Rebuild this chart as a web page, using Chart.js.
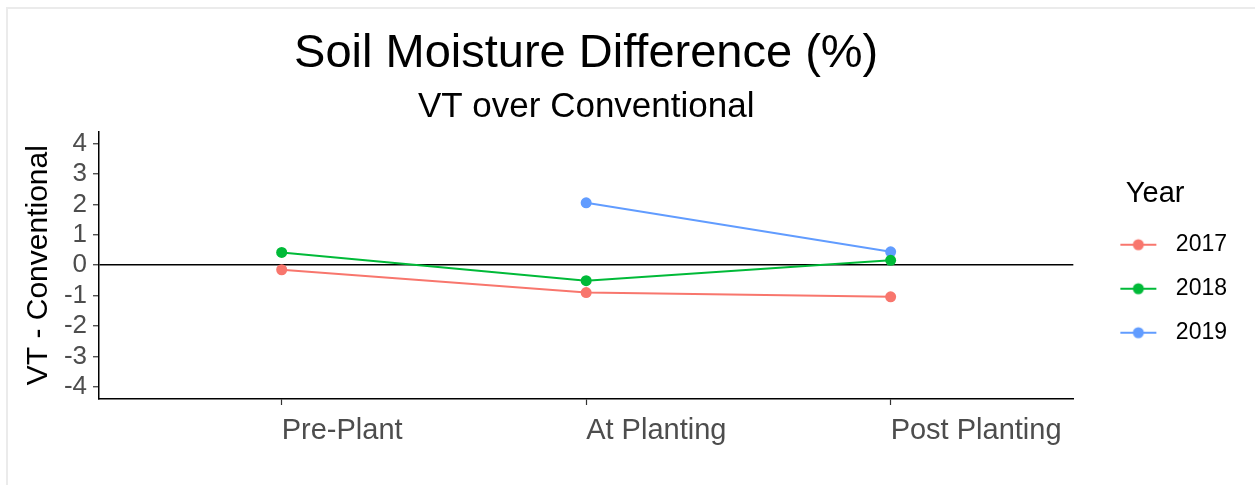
<!DOCTYPE html>
<html>
<head>
<meta charset="utf-8">
<title>Soil Moisture Difference</title>
<script src="https://cdn.jsdelivr.net/npm/chart.js@4.4.1/dist/chart.umd.min.js"></script>
<style>
    html, body { margin: 0; padding: 0; background: #fff; }
    #wrap { position: relative; width: 1255px; height: 485px; overflow: hidden; }
    #frame { position: absolute; left: 6px; top: 7px; right: 0; bottom: 0; border-left: 2px solid #ebebeb; border-top: 2px solid #ebebeb; }
    #moistureChart { position: absolute; left: 0; top: 0; }
</style>
</head>
<body>
<div id="wrap">
    <div id="frame"></div>
    <canvas id="moistureChart" width="1255" height="485"></canvas>
</div>
<script>
// values (VT minus conventional, %)
const stages = ['Pre-Plant', 'At Planting', 'Post Planting'];
const years = ['2017', '2018', '2019'];
const diff2017 = [-0.15, -0.90, -1.04];
const diff2018 = [0.42, -0.51, 0.16];
const diff2019 = [null, 2.05, 0.44];
const yTicks = [-4, -3, -2, -1, 0, 1, 2, 3, 4];

const seriesList = [diff2017, diff2018, diff2019];
// ggplot default hue palette
const colors = ['#F8766D', '#00BA38', '#619CFF'];
const tickGrey = '#4D4D4D';

Chart.defaults.font.family = "'Liberation Sans', Arial, sans-serif";

// small line + dot swatch for the legend
function legendSymbol(color) {
    const c = document.createElement('canvas');
    c.width = 70;
    c.height = 16;
    const g = c.getContext('2d');
    g.strokeStyle = color;
    g.lineWidth = 2;
    g.beginPath();
    g.moveTo(26, 8);
    g.lineTo(62, 8);
    g.stroke();
    g.fillStyle = color;
    g.beginPath();
    g.arc(44, 8, 5.5, 0, Math.PI * 2);
    g.fill();
    return c;
}

const ctx = document.getElementById('moistureChart').getContext('2d');

new Chart(ctx, {
    type: 'line',
    data: {
        datasets: years.map((yr, i) => ({
            label: yr,
            data: stages.map((s, j) => ({ x: j + 1, y: seriesList[i][j] })),
            borderColor: colors[i],
            backgroundColor: colors[i],
            borderWidth: 2,
            pointRadius: 5.5,
            pointBorderWidth: 0,
            pointHoverRadius: 6.5,
            tension: 0
        }))
    },
    options: {
        responsive: false,
        animation: false,
        layout: { padding: { left: 0, right: 18, top: 0, bottom: 0 } },
        scales: {
            x: {
                type: 'linear',
                min: 0.4,
                max: 3.6,
                afterBuildTicks: (scale) => {
                    scale.ticks = stages.map((s, j) => ({ value: j + 1 }));
                },
                afterFit: (scale) => { scale.height = 86; },
                ticks: {
                    callback: (v) => stages[Math.round(v) - 1],
                    align: 'start',
                    maxRotation: 0,
                    autoSkip: false,
                    color: tickGrey,
                    padding: 9,
                    font: { size: 29 }
                },
                grid: {
                    display: true,
                    drawOnChartArea: false,
                    tickLength: 6,
                    tickColor: '#333',
                    tickWidth: 1.2
                },
                border: { display: true, color: '#000', width: 1.5 }
            },
            y: {
                type: 'linear',
                min: -4.4,
                max: 4.4,
                afterBuildTicks: (scale) => {
                    scale.ticks = yTicks.map(v => ({ value: v }));
                },
                afterFit: (scale) => { scale.width = 99; },
                ticks: {
                    autoSkip: false,
                    color: tickGrey,
                    padding: 6,
                    font: { size: 26, lineHeight: 1 }
                },
                grid: {
                    display: true,
                    drawOnChartArea: true,
                    // only the zero reference line is drawn across the panel
                    color: (c) => (c.tick && c.tick.value === 0 ? '#000' : 'rgba(0,0,0,0)'),
                    lineWidth: 1.5,
                    tickLength: 6,
                    tickColor: '#333',
                    tickWidth: 1.2
                },
                border: { display: true, color: '#000', width: 1.5 },
                title: {
                    display: true,
                    text: 'VT - Conventional',
                    color: '#000',
                    font: { size: 30 },
                    padding: { top: 21, bottom: 0 }
                }
            }
        },
        plugins: {
            title: {
                display: true,
                text: 'Soil Moisture Difference (%)',
                color: '#000',
                fullSize: false,
                font: { size: 47, weight: 'normal' },
                padding: { top: 26, bottom: 0 }
            },
            subtitle: {
                display: true,
                text: 'VT over Conventional',
                color: '#000',
                fullSize: false,
                font: { size: 35, weight: 'normal' },
                padding: { top: 4, bottom: 3 }
            },
            legend: {
                position: 'right',
                align: 'center',
                title: {
                    display: true,
                    text: 'Year',
                    color: '#000',
                    font: { size: 29, lineHeight: 1 },
                    padding: { top: 60, bottom: 3.5 }
                },
                labels: {
                    usePointStyle: true,
                    pointStyleWidth: 70,
                    padding: 21,
                    color: '#000',
                    font: { size: 23 },
                    generateLabels: (chart) => chart.data.datasets.map((ds, i) => ({
                        text: ds.label,
                        pointStyle: legendSymbol(colors[i]),
                        fillStyle: colors[i],
                        strokeStyle: colors[i],
                        fontColor: '#000',
                        lineWidth: 0,
                        hidden: !chart.isDatasetVisible(i),
                        datasetIndex: i
                    }))
                }
            },
            tooltip: { enabled: true }
        }
    }
});
</script>
</body>
</html>
